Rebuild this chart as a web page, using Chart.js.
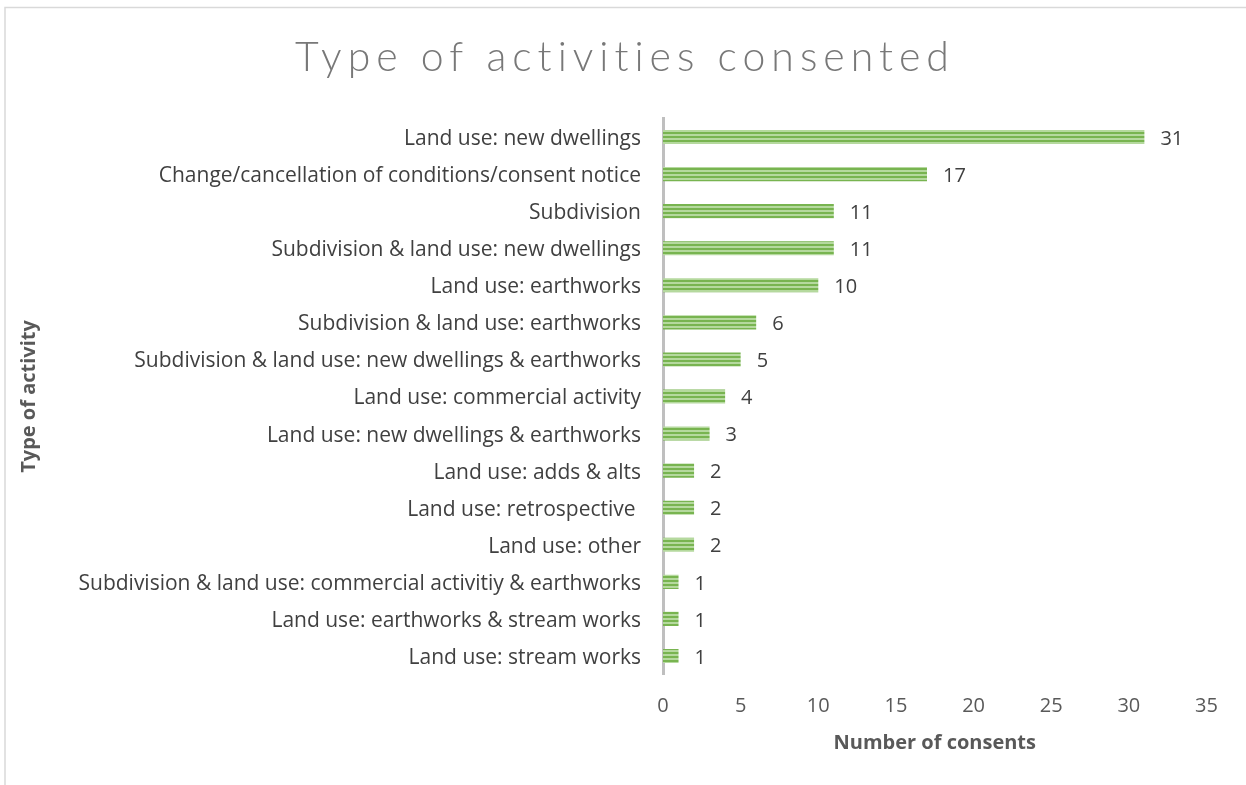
<!DOCTYPE html>
<html>
<head>
<meta charset="utf-8">
<script src="https://cdn.jsdelivr.net/npm/chart.js@4"></script>
<style>
  html, body { margin: 0; padding: 0; background: #fff; }
  #wrap { position: relative; width: 1246px; height: 785px; }
</style>
</head>
<body>
<div id="wrap"><canvas id="activityChart" width="1246" height="785"></canvas></div>
<script>
const activityTypes = [
    "Land use: new dwellings",
    "Change/cancellation of conditions/consent notice",
    "Subdivision",
    "Subdivision & land use: new dwellings",
    "Land use: earthworks",
    "Subdivision & land use: earthworks",
    "Subdivision & land use: new dwellings & earthworks",
    "Land use: commercial activity",
    "Land use: new dwellings & earthworks",
    "Land use: adds & alts",
    "Land use: retrospective ",
    "Land use: other",
    "Subdivision & land use: commercial activitiy & earthworks",
    "Land use: earthworks & stream works",
    "Land use: stream works"
];
const consentCounts = [31, 17, 11, 11, 10, 6, 5, 4, 3, 2, 2, 2, 1, 1, 1];
const xTicks = [0, 5, 10, 15, 20, 25, 30, 35];

const chartTitle = "Type of activities consented";
const FONT = "'Open Sans', sans-serif";
const TITLE_FONT = "Lato, 'Open Sans', sans-serif";

// striped green fill for the bars
function stripePattern() {
    const c = document.createElement("canvas");
    c.width = 4;
    c.height = 4;
    const g = c.getContext("2d");
    g.fillStyle = "#78b450";
    g.fillRect(0, 0, 4, 2);
    g.fillStyle = "#b5d99e";
    g.fillRect(0, 2, 4, 2);
    return g.createPattern(c, "repeat");
}

// frame lines + spaced-out title
const decorPlugin = {
    id: "decor",
    beforeDraw(chart) {
        const ctx = chart.ctx;
        ctx.save();
        ctx.fillStyle = "#fff";
        ctx.fillRect(0, 0, chart.width, chart.height);
        ctx.strokeStyle = "#d9d9d9";
        ctx.lineWidth = 1.5;
        ctx.beginPath();
        ctx.moveTo(5, chart.height);
        ctx.lineTo(5, 7.5);
        ctx.lineTo(chart.width, 7.5);
        ctx.stroke();
        ctx.restore();
    },
    afterDraw(chart) {
        const ctx = chart.ctx;
        ctx.save();
        ctx.font = "300 41px " + TITLE_FONT;
        ctx.fillStyle = "#787878";
        ctx.letterSpacing = "6px";
        ctx.textAlign = "center";
        ctx.textBaseline = "middle";
        ctx.fillText(chartTitle, 625, 58);
        ctx.restore();
    }
};

// value labels at the end of each bar
const valueLabels = {
    id: "valueLabels",
    afterDatasetsDraw(chart) {
        const ctx = chart.ctx;
        const meta = chart.getDatasetMeta(0);
        ctx.save();
        ctx.font = "20px " + FONT;
        ctx.fillStyle = "#404040";
        ctx.textAlign = "left";
        ctx.textBaseline = "middle";
        meta.data.forEach((bar, i) => {
            ctx.fillText(String(consentCounts[i]), bar.x + 16, bar.y + 2);
        });
        ctx.restore();
    }
};

const ctx = document.getElementById("activityChart").getContext("2d");
new Chart(ctx, {
    type: "bar",
    data: {
        labels: activityTypes,
        datasets: [{
            data: consentCounts,
            backgroundColor: stripePattern(),
            borderWidth: 0,
            barPercentage: 0.76,
            categoryPercentage: 0.5
        }]
    },
    options: {
        indexAxis: "y",
        responsive: false,
        animation: false,
        layout: { padding: { top: 118.5, right: 39.5, bottom: 30, left: 0 } },
        plugins: {
            legend: { display: false },
            tooltip: { enabled: false },
            title: { display: false }
        },
        scales: {
            x: {
                min: 0,
                max: 35,
                afterBuildTicks(scale) {
                    scale.ticks = xTicks.map(v => ({ value: v }));
                },
                afterFit(scale) { scale.height = 80.5; },
                grid: { display: false, drawTicks: false },
                border: { display: false },
                ticks: {
                    color: "#595959",
                    font: { family: FONT, size: 20 },
                    padding: 20
                },
                title: {
                    display: true,
                    text: "Number of consents",
                    color: "#595959",
                    font: { family: FONT, size: 20, weight: "bold" },
                    padding: { top: 12, bottom: 0 }
                }
            },
            y: {
                afterFit(scale) { scale.width = 663; },
                grid: { display: false, drawTicks: false },
                border: { display: true, color: "#bfbfbf", width: 3 },
                ticks: {
                    color: "#404040",
                    font: { family: FONT, size: 21 },
                    padding: 22,
                    labelOffset: 2,
                    autoSkip: false
                },
                title: {
                    display: true,
                    text: "Type of activity",
                    color: "#595959",
                    font: { family: FONT, size: 20, weight: "bold" },
                    padding: { top: 17, bottom: 0 }
                }
            }
        }
    },
    plugins: [decorPlugin, valueLabels]
});
</script>
</body>
</html>
